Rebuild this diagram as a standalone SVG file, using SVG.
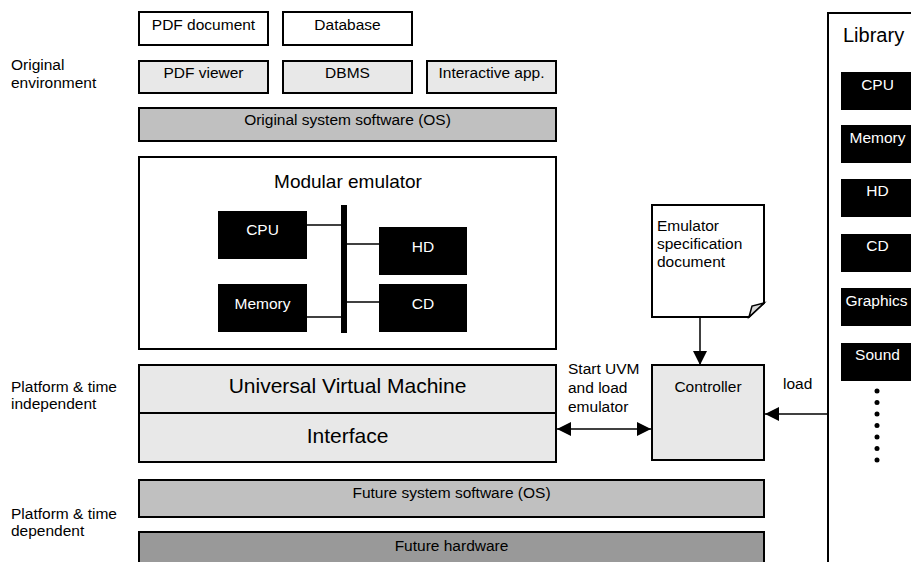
<svg xmlns="http://www.w3.org/2000/svg" width="911" height="562" viewBox="0 0 911 562">
<defs>
<style>
text{font-family:"Liberation Sans",Arial,sans-serif;font-size:15.5px;fill:#000}
.c{text-anchor:middle}
.w{fill:#fff}
.big{font-size:20px}
.box{stroke:#000;stroke-width:2}
.white{fill:#fff}
.light{fill:#e8e8e8}
.mid{fill:#c0c0c0}
.dark{fill:#999}
.blk{fill:#000}
.ln{stroke:#000;stroke-width:1.5;fill:none}
</style>
<marker id="ah" viewBox="0 0 10 10" refX="10" refY="5" markerWidth="14" markerHeight="14" markerUnits="userSpaceOnUse" orient="auto-start-reverse">
<path d="M0,0 L10,5 L0,10 Z" fill="#000"/>
</marker>
</defs>
<rect width="911" height="562" fill="#fff"/>

<g id="labels">
<text x="11" y="70">Original</text>
<text x="11" y="88">environment</text>
<text x="11" y="392">Platform &amp; time</text>
<text x="11" y="409">independent</text>
<text x="11" y="519">Platform &amp; time</text>
<text x="11" y="536">dependent</text>
</g>

<g id="pdf-document"><rect class="box white" x="139" y="12" width="129" height="33"/><text class="c" x="203.5" y="29.5">PDF document</text></g>
<g id="database"><rect class="box white" x="283" y="12" width="129" height="33"/><text class="c" x="347.5" y="29.5">Database</text></g>
<g id="pdf-viewer"><rect class="box light" x="139" y="61" width="129" height="32"/><text class="c" x="203.5" y="78">PDF viewer</text></g>
<g id="dbms"><rect class="box light" x="283" y="61" width="129" height="32"/><text class="c" x="347.5" y="78">DBMS</text></g>
<g id="interactive-app"><rect class="box light" x="427" y="61" width="129" height="32"/><text class="c" x="491.5" y="78">Interactive app.</text></g>
<g id="original-os"><rect class="box mid" x="139" y="108" width="417" height="33"/><text class="c" x="347.5" y="125">Original system software (OS)</text></g>

<g id="modular-emulator">
<rect class="box white" x="139" y="157" width="417" height="192"/>
<text class="c" x="348" y="188" style="font-size:19px">Modular emulator</text>
</g>
<g id="cpu"><rect class="blk" x="218" y="211" width="89" height="48"/><text class="c w" x="262.5" y="235">CPU</text></g>
<g id="memory"><rect class="blk" x="218" y="284" width="89" height="48"/><text class="c w" x="262.5" y="309">Memory</text></g>
<g id="hd"><rect class="blk" x="379" y="227" width="88" height="48"/><text class="c w" x="423" y="252">HD</text></g>
<g id="cd"><rect class="blk" x="379" y="284" width="88" height="48"/><text class="c w" x="423" y="309">CD</text></g>
<g id="bus"><rect class="blk" x="341" y="205" width="6" height="128"/></g>

<g id="uvm"><rect class="box light" x="139" y="365" width="417" height="48"/><text class="c" x="347.5" y="393" style="font-size:21px">Universal Virtual Machine</text></g>
<g id="interface"><rect class="box light" x="139" y="413" width="417" height="49"/><text class="c" x="347.5" y="443" style="font-size:21px">Interface</text></g>
<g id="future-os"><rect class="box mid" x="139" y="480" width="625" height="37"/><text class="c" x="451.5" y="498">Future system software (OS)</text></g>
<g id="future-hardware"><rect class="box dark" x="139" y="532" width="625" height="40"/><text class="c" x="451.5" y="551">Future hardware</text></g>

<g id="spec-document">
<path class="box white" d="M652,205 H764 V303 L749,317 H652 Z"/>
<path d="M764,303 L752,306 L749,317 Z" fill="#d8d8d8" stroke="#000" stroke-width="1.5"/>
<text x="657" y="231">Emulator</text>
<text x="657" y="249">specification</text>
<text x="657" y="267">document</text>
</g>
<g id="controller"><rect class="box light" x="652" y="365" width="112" height="95"/><text class="c" x="708" y="392">Controller</text></g>

<g id="library">
<rect x="828" y="13" width="100" height="560" fill="none" stroke="#000" stroke-width="2"/>
<text x="843" y="42" style="font-size:20px">Library</text>
<rect class="blk" x="841" y="72" width="75" height="38"/><text class="c w" x="877.5" y="90">CPU</text>
<rect class="blk" x="841" y="125" width="75" height="38"/><text class="c w" x="877.5" y="143">Memory</text>
<rect class="blk" x="841" y="179" width="75" height="38"/><text class="c w" x="877.5" y="196">HD</text>
<rect class="blk" x="841" y="234" width="75" height="38"/><text class="c w" x="877.5" y="251">CD</text>
<rect class="blk" x="841" y="288" width="75" height="38"/><text class="c w" x="876.5" y="306">Graphics</text>
<rect class="blk" x="841" y="343" width="75" height="38"/><text class="c w" x="877.5" y="360">Sound</text>
<g fill="#000">
<circle cx="877" cy="391" r="2.5"/><circle cx="877" cy="402.5" r="2.5"/><circle cx="877" cy="414" r="2.5"/><circle cx="877" cy="425.5" r="2.5"/><circle cx="877" cy="437" r="2.5"/><circle cx="877" cy="448.5" r="2.5"/><circle cx="877" cy="460" r="2.5"/>
</g>
</g>

<g id="connectors">
<line class="ln" x1="307" y1="225" x2="342" y2="225"/>
<line class="ln" x1="307" y1="317" x2="342" y2="317"/>
<line class="ln" x1="346" y1="244" x2="379" y2="244"/>
<line class="ln" x1="346" y1="302" x2="379" y2="302"/>
<line class="ln" x1="700" y1="317" x2="700" y2="365" marker-end="url(#ah)"/>
<line class="ln" x1="557" y1="429" x2="651" y2="429" marker-start="url(#ah)" marker-end="url(#ah)"/>
<line class="ln" x1="828" y1="414" x2="765" y2="414" marker-end="url(#ah)"/>
<text x="568" y="374">Start UVM</text>
<text x="568" y="393">and load</text>
<text x="568" y="412">emulator</text>
<text x="783" y="389">load</text>
</g>
</svg>
